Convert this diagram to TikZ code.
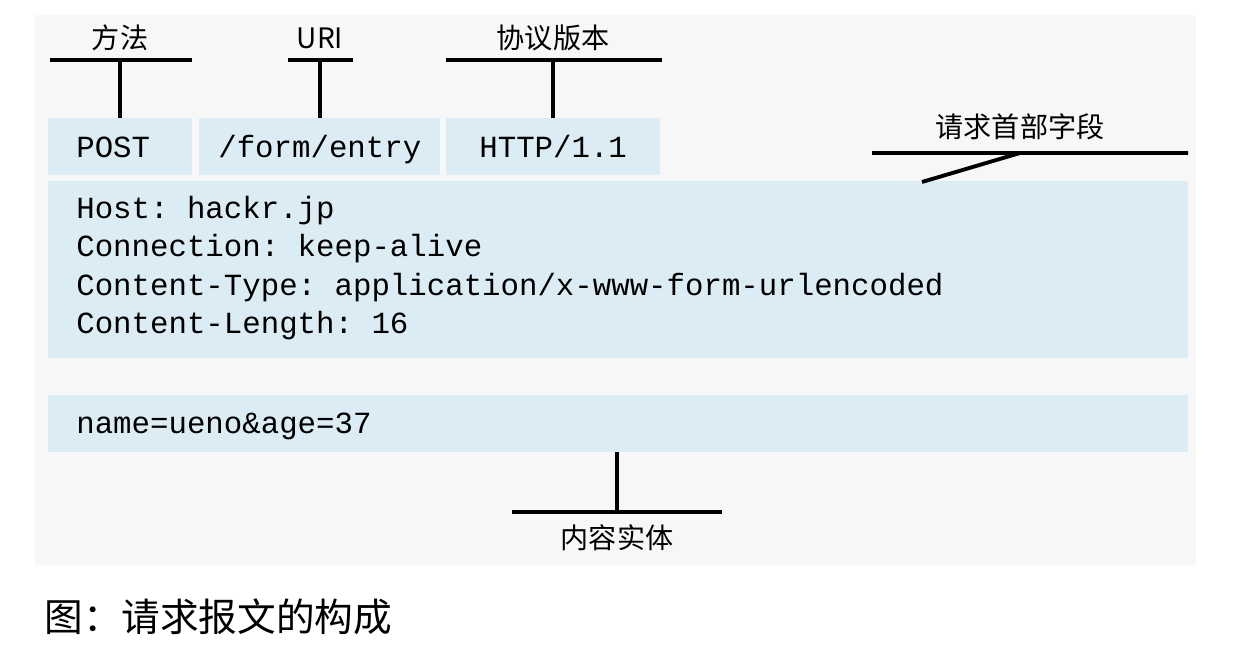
\documentclass[tikz,border=0pt]{standalone}
\usepackage{fontspec}
\setmonofont{Liberation Mono}
\newfontfamily\cjk{Noto Sans CJK SC}
\definecolor{boxblue}{HTML}{DCECF5}
\definecolor{bggray}{HTML}{F7F7F7}
\tikzset{
  field/.style={fill=boxblue, draw=none},
  code/.style={font=\ttfamily\fontsize{17.5}{22}\selectfont, anchor=base west, align=left, inner sep=0pt},
  tag/.style={font=\cjk\fontsize{16}{18}\selectfont, inner sep=0pt},
  bar/.style={line width=2.2pt},
}
\begin{document}
\begin{tikzpicture}[x=0.02cm, y=-0.02cm]
\useasboundingbox (0,0) rectangle (1248,645);
% Background
\fill[bggray] (35,15) rectangle (1196,565);
% Request line
\fill[field] (48,118) rectangle (192,175);
\fill[field] (199,118) rectangle (440,175);
\fill[field] (446,118) rectangle (660,175);
\node[code] (method) at (76,158) {POST};
\node[code] (uri) at (218,158) {/form/entry};
\node[code] (version) at (479,158) {HTTP/1.1};
% Header fields
\fill[field] (48,181) rectangle (1188,358);
\node[code] (host) at (76,219) {Host: hackr.jp};
\node[code] (conn) at (76,257) {Connection: keep-alive};
\node[code] (ctype) at (76,296) {Content-Type: application/x-www-form-urlencoded};
\node[code] (clen) at (76,334) {Content-Length: 16};
% Body
\fill[field] (48,395) rectangle (1188,452);
\node[code] (body) at (76,433) {name=ueno\&age=37};
% Labels
\node[tag] (lmethod) at (120,38) {方法};
\node[tag] (luri) at (320,38) {URI};
\node[tag] (lversion) at (553,38) {协议版本};
\node[tag] (lheader) at (1020,127) {请求首部字段};
\node[tag] (lbody) at (617,538) {内容实体};
% Connectors
\draw[bar] (50,60) -- (192,60) (120,60) -- (120,118);
\draw[bar] (288,60) -- (353,60) (320,60) -- (320,118);
\draw[bar] (446,60) -- (662,60) (553,60) -- (553,118);
\draw[bar] (872,153) -- (1188,153) (1020,153) -- (922,182);
\draw[bar] (512,512) -- (722,512) (617,452) -- (617,512);
% Caption
\node[font=\cjk\fontsize{22}{26}\selectfont, anchor=west, inner sep=0pt] (caption) at (44,617) {图：请求报文的构成};
\end{tikzpicture}
\end{document}
